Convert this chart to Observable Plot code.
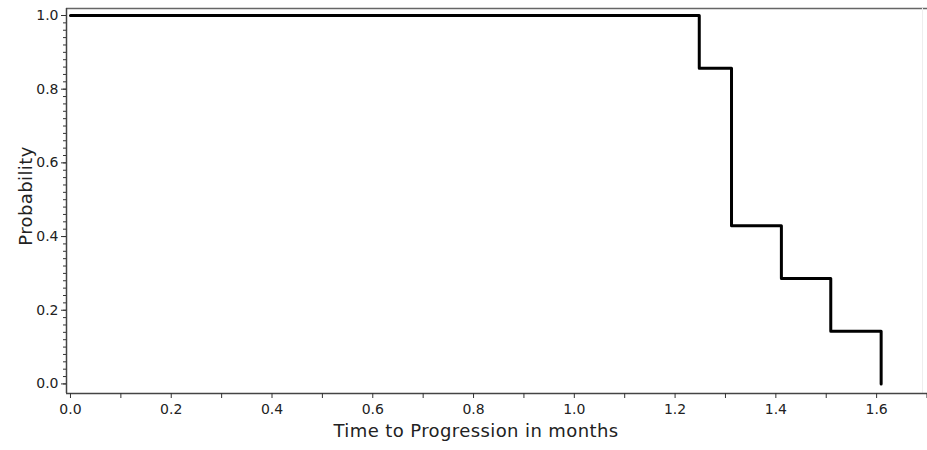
<!DOCTYPE html>
<html><head><meta charset="utf-8">
<script src="https://cdn.jsdelivr.net/npm/d3@7"></script>
<script src="https://cdn.jsdelivr.net/npm/@observablehq/plot@0.6"></script>
<style>body{margin:0;background:#fff} svg{display:block}</style>
</head><body><div id="chart"></div>
<script>
// Kaplan-Meier step data
const times = [0, 1.248, 1.312, 1.411, 1.509, 1.609];
const survival = [1.0, 0.857, 0.429, 0.286, 0.143, 0.0];

const xMajorTicks = [0, 0.2, 0.4, 0.6, 0.8, 1.0, 1.2, 1.4, 1.6];
const xMinorTicks = [0.1, 0.3, 0.5, 0.7, 0.9, 1.1, 1.3, 1.5, 1.7];
const yMajorTicks = [0, 0.2, 0.4, 0.6, 0.8, 1.0];
const yMinorTicks = d3.range(0, 51).map(i => i / 50);
const xLabel = "Time to Progression in months";
const yLabel = "Probability";

const xDomain = [-0.0079, 1.701];
const yDomain = [-0.026, 1.019];

const data = times.map((t, i) => ({time: t, p: survival[i]}));
const fmt = d3.format(".1f");

const chart = Plot.plot({
  width: 927,
  height: 450,
  marginLeft: 66,
  marginRight: 0,
  marginTop: 8,
  marginBottom: 57,
  x: {domain: xDomain},
  y: {domain: yDomain},
  style: {fontFamily: "DejaVu Sans", background: "#fff", color: "#333"},
  marks: [
    Plot.ruleY([yDomain[1]], {stroke: "#666", strokeWidth: 1.5}),
    Plot.ruleX([1.691], {stroke: "#eee"}),
    Plot.ruleY([yDomain[0]], {stroke: "#444", strokeWidth: 1.5}),
    Plot.ruleX([xDomain[0]], {stroke: "#444", strokeWidth: 1.5}),
    Plot.axisY(yMinorTicks, {tickSize: 3, tickFormat: () => "", label: null}),
    Plot.axisY(yMajorTicks, {tickSize: 5, tickPadding: 3, tickFormat: fmt, fontSize: 14, label: null, fill: "#222"}),
    Plot.axisX(xMinorTicks, {tickSize: 5, tickFormat: () => "", label: null}),
    Plot.axisX(xMajorTicks, {tickSize: 5, tickPadding: 6, tickFormat: fmt, fontSize: 14, label: null, fill: "#222"}),
    Plot.line(data, {x: "time", y: "p", curve: "step-after", stroke: "#000", strokeWidth: 3}),
    Plot.text([yLabel], {frameAnchor: "left", textAnchor: "middle", dx: -40, dy: -5, rotate: -90, fontSize: 18, fill: "#222"}),
    Plot.text([xLabel], {frameAnchor: "bottom", dx: -21, dy: 43, fontSize: 18, fill: "#222"})
  ]
});
d3.select(chart).selectAll("g[aria-label$='tick label']").attr("font-size", 14);
d3.select(chart).selectAll("text")
  .filter(function() { const t = this.textContent; return t === xLabel || t === yLabel; })
  .attr("letter-spacing", "0.4px");
document.getElementById("chart").appendChild(chart);
</script>
</body></html>
